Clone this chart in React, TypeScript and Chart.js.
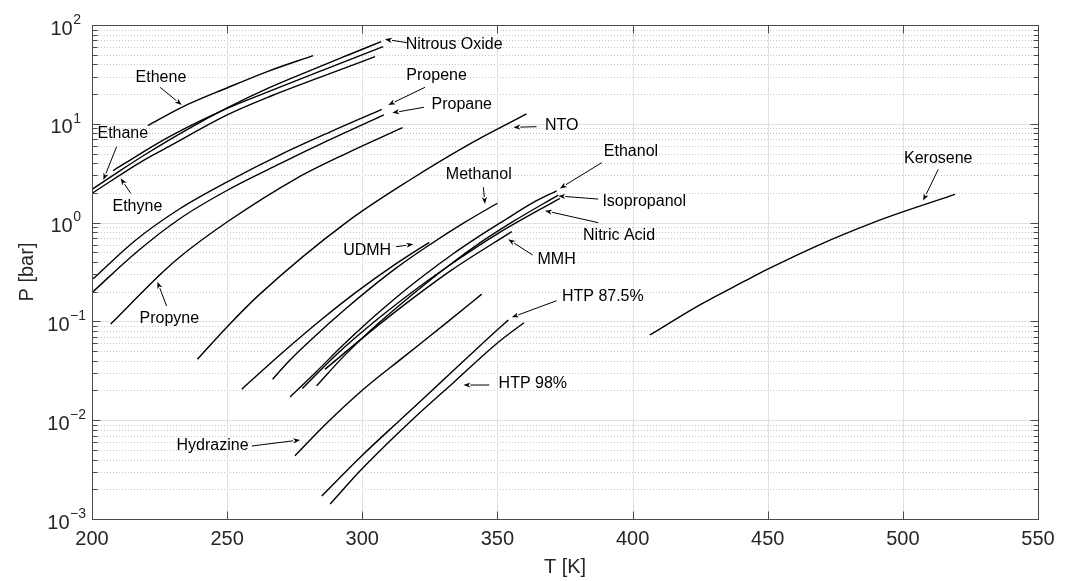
import React, { useEffect, useRef } from "react";
import { Chart, registerables } from "chart.js";

Chart.register(...registerables);

// ---------- data: temperature T [K] and vapour pressure P [bar] ----------
const etheneT = [220.7, 233, 250.3, 265.1, 281.8];
const etheneP = [9.6, 14.6, 23.3, 34.0, 49.0];
const nitrousT = [200, 210, 220, 235, 250, 265, 280, 295, 307];
const nitrousP = [2.17, 3.3, 4.95, 8.7, 14.5, 22.8, 34, 50, 67.8];
const ethyneT = [207.8, 218, 229, 250, 266, 285, 307.7];
const ethyneP = [3.35, 5.0, 7.5, 14.3, 21.5, 34.5, 60.3];
const ethaneT = [200, 218, 229, 250, 266, 285, 304.7];
const ethaneP = [1.98, 4.1, 6.0, 12.3, 19.0, 30.0, 47.8];
const propeneT = [200.4, 216, 232.6, 250.4, 269.6, 288, 307.2];
const propeneP = [0.27, 0.66, 1.39, 2.62, 4.85, 8.25, 14.0];
const propaneT = [200.4, 216, 232.6, 250.4, 269.6, 288, 308];
const propaneP = [0.2, 0.49, 1.1, 2.15, 3.95, 6.9, 12.3];
const propyneT = [206.9, 226.3, 232.6, 250.1, 275.7, 294.2, 314.9];
const propyneP = [0.094, 0.318, 0.452, 1.02, 2.81, 5.03, 9.14];
const ntoT = [239, 250.3, 262.2, 294, 317.6, 340, 360.8];
const ntoP = [0.0413, 0.09, 0.19, 1.0, 2.7, 6.3, 12.6];
const udmhT = [255.4, 270, 285, 298, 312, 324.8];
const udmhP = [0.0206, 0.047, 0.105, 0.2, 0.375, 0.632];
const methanolT = [266.8, 273, 283, 293, 303, 313, 323, 338, 350];
const methanolP = [0.026, 0.04, 0.073, 0.128, 0.217, 0.354, 0.55, 1.01, 1.57];
const ethanolT = [273.3, 283, 293, 303, 313, 323, 333, 343, 351.5, 363, 371.9];
const ethanolP = [0.0172, 0.031, 0.058, 0.104, 0.179, 0.295, 0.47, 0.72, 1.01, 1.58, 2.1];
const isopropanolT = [283.1, 293, 303, 313, 323, 333, 343, 355.4, 372.5];
const isopropanolP = [0.0223, 0.044, 0.081, 0.14, 0.235, 0.385, 0.61, 1.01, 1.9];
const nitricT = [277.8, 290, 305, 320, 335, 350, 373.1];
const nitricP = [0.0209, 0.045, 0.102, 0.213, 0.416, 0.77, 1.76];
const mmhT = [286.2, 298, 313, 333, 355.3];
const mmhP = [0.0327, 0.061, 0.13, 0.33, 0.81];
const hydrazineT = [275.1, 286.8, 300.1, 315, 331.8, 344.2];
const hydrazineP = [0.00437, 0.0093, 0.0202, 0.043, 0.1, 0.189];
const htp875T = [285, 300.1, 313.9, 330, 350.1, 354];
const htp875P = [0.00171, 0.00444, 0.01, 0.0256, 0.083, 0.103];
const htp98T = [288.1, 300.1, 318.3, 334, 350.1, 359.8];
const htp98P = [0.00142, 0.00326, 0.01, 0.0244, 0.0608, 0.097];
const keroseneT = [406.4, 424.9, 441.6, 450.2, 469.3, 489, 500.2, 519.3];
const keroseneP = [0.0728, 0.147, 0.257, 0.34, 0.6, 1.0, 1.29, 1.93];

// tick values
const xTicks = [200, 250, 300, 350, 400, 450, 500, 550];
const yDecades = [-3, -2, -1, 0, 1, 2];

const curves = [
  { name: "Ethene", T: etheneT, P: etheneP },
  { name: "Nitrous Oxide", T: nitrousT, P: nitrousP },
  { name: "Ethyne", T: ethyneT, P: ethyneP },
  { name: "Ethane", T: ethaneT, P: ethaneP },
  { name: "Propene", T: propeneT, P: propeneP },
  { name: "Propane", T: propaneT, P: propaneP },
  { name: "Propyne", T: propyneT, P: propyneP },
  { name: "NTO", T: ntoT, P: ntoP },
  { name: "UDMH", T: udmhT, P: udmhP },
  { name: "Methanol", T: methanolT, P: methanolP },
  { name: "Ethanol", T: ethanolT, P: ethanolP },
  { name: "Isopropanol", T: isopropanolT, P: isopropanolP },
  { name: "Nitric Acid", T: nitricT, P: nitricP },
  { name: "MMH", T: mmhT, P: mmhP },
  { name: "Hydrazine", T: hydrazineT, P: hydrazineP },
  { name: "HTP 87.5%", T: htp875T, P: htp875P },
  { name: "HTP 98%", T: htp98T, P: htp98P },
  { name: "Kerosene", T: keroseneT, P: keroseneP },
];

// annotation labels with arrows, in data coordinates [T, P]
const annotations = [
  { text: "Nitrous Oxide", at: [334.0, 63.8], from: [316.6, 66.2], to: [308.4, 71.7] },
  { text: "Propene", at: [327.5, 30.5], from: [323.2, 23.4], to: [309.6, 15.5] },
  { text: "Propane", at: [336.8, 15.8], from: [322.8, 14.7], to: [311.1, 12.9] },
  { text: "NTO", at: [373.8, 9.57], from: [364.5, 9.35], to: [355.9, 9.22] },
  { text: "Ethanol", at: [399.4, 5.22], from: [388.6, 4.04], to: [373.1, 2.22] },
  { text: "Methanol", at: [343.1, 3.03], from: [344.8, 2.28], to: [345.4, 1.54] },
  { text: "Isopropanol", at: [404.3, 1.63], from: [387.3, 1.73], to: [372.5, 1.86] },
  { text: "Nitric Acid", at: [395.0, 0.736], from: [387.3, 0.998], to: [367.6, 1.32] },
  { text: "MMH", at: [371.9, 0.425], from: [363.0, 0.47], to: [354.0, 0.678] },
  { text: "UDMH", at: [301.8, 0.516], from: [312.5, 0.57], to: [318.9, 0.603] },
  { text: "Ethene", at: [225.5, 29.6], from: [225.2, 23.4], to: [233.2, 15.5] },
  { text: "Ethane", at: [211.4, 8.01], from: [209.1, 5.87], to: [204.2, 2.7] },
  { text: "Ethyne", at: [216.8, 1.45], from: [214.3, 1.98], to: [210.6, 2.81] },
  { text: "Propyne", at: [228.6, 0.106], from: [227.6, 0.143], to: [224.2, 0.252] },
  { text: "Hydrazine", at: [244.6, 0.00552], from: [259.1, 0.00548], to: [277.0, 0.00631] },
  { text: "HTP 87.5%", at: [389.0, 0.178], from: [371.9, 0.162], to: [355.3, 0.11] },
  { text: "HTP 98%", at: [363.1, 0.0237], from: [347.0, 0.0227], to: [337.4, 0.0227] },
  { text: "Kerosene", at: [513.1, 4.48], from: [513.1, 3.46], to: [507.5, 1.67] },
];

const FONT = '"Liberation Sans", Arial, Helvetica, sans-serif';
const AXIS_COLOR = "#262626";

const snap = (v: number) => Math.round(v) + 0.5;

const matlabFrame = {
  id: "matlabFrame",
  beforeDatasetsDraw(chart: any) {
    const { ctx, chartArea, scales } = chart;
    const { left, right, top, bottom } = chartArea;
    const xs = scales.x;
    const ys = scales.y;
    ctx.save();
    ctx.lineWidth = 1;
    // minor y grid (dotted)
    ctx.strokeStyle = "#c6c6c6";
    ctx.setLineDash([1, 2]);
    ctx.beginPath();
    for (let i = 0; i < yDecades.length - 1; i++) {
      for (let k = 2; k <= 9; k++) {
        const py = snap(ys.getPixelForValue(k * Math.pow(10, yDecades[i])));
        ctx.moveTo(left, py);
        ctx.lineTo(right, py);
      }
    }
    ctx.stroke();
    // major grid
    ctx.setLineDash([]);
    ctx.strokeStyle = "#e1e1e1";
    ctx.beginPath();
    for (const d of yDecades.slice(1, -1)) {
      const py = snap(ys.getPixelForValue(Math.pow(10, d)));
      ctx.moveTo(left, py);
      ctx.lineTo(right, py);
    }
    for (const t of xTicks.slice(1, -1)) {
      const px = snap(xs.getPixelForValue(t));
      ctx.moveTo(px, top);
      ctx.lineTo(px, bottom);
    }
    ctx.stroke();
    ctx.restore();
  },
  afterDatasetsDraw(chart: any) {
    const { ctx, chartArea, scales } = chart;
    const { left, right, top, bottom } = chartArea;
    const xs = scales.x;
    const ys = scales.y;
    ctx.save();
    // box
    ctx.strokeStyle = "#4a4a4a";
    ctx.lineWidth = 1;
    const L = snap(left), R = snap(right), T = snap(top), B = snap(bottom);
    ctx.strokeRect(L, T, R - L, B - T);
    // ticks
    ctx.beginPath();
    for (const t of xTicks) {
      const px = snap(xs.getPixelForValue(t));
      ctx.moveTo(px, B);
      ctx.lineTo(px, B - 8);
      ctx.moveTo(px, T);
      ctx.lineTo(px, T + 8);
    }
    for (let i = 0; i < yDecades.length; i++) {
      const py = snap(ys.getPixelForValue(Math.pow(10, yDecades[i])));
      ctx.moveTo(L, py);
      ctx.lineTo(L + 8, py);
      ctx.moveTo(R, py);
      ctx.lineTo(R - 8, py);
      if (i < yDecades.length - 1) {
        for (let k = 2; k <= 9; k++) {
          const pm = snap(ys.getPixelForValue(k * Math.pow(10, yDecades[i])));
          ctx.moveTo(L, pm);
          ctx.lineTo(L + 5, pm);
          ctx.moveTo(R, pm);
          ctx.lineTo(R - 5, pm);
        }
      }
    }
    ctx.stroke();

    // y tick labels 10^n
    ctx.fillStyle = AXIS_COLOR;
    ctx.textBaseline = "middle";
    ctx.textAlign = "right";
    for (const d of yDecades) {
      const py = ys.getPixelForValue(Math.pow(10, d));
      const exp = d < 0 ? "\u2212" + String(-d) : String(d);
      const edge = d < 0 ? left - 6 : left - 11;
      ctx.font = `14px ${FONT}`;
      const ew = ctx.measureText(exp).width;
      ctx.fillText(exp, edge, py - 5);
      ctx.font = `20px ${FONT}`;
      ctx.fillText("10", edge - ew - 0.5, py + 4);
    }

    // annotations
    ctx.font = `16px ${FONT}`;
    ctx.fillStyle = "#000";
    ctx.strokeStyle = "#000";
    ctx.textAlign = "center";
    ctx.textBaseline = "middle";
    ctx.lineWidth = 1;
    for (const a of annotations) {
      const tx = xs.getPixelForValue(a.at[0]);
      const ty = ys.getPixelForValue(a.at[1]);
      ctx.fillText(a.text, tx, ty);
      const fx = xs.getPixelForValue(a.from[0]);
      const fy = ys.getPixelForValue(a.from[1]);
      const hx = xs.getPixelForValue(a.to[0]);
      const hy = ys.getPixelForValue(a.to[1]);
      const ang = Math.atan2(hy - fy, hx - fx);
      const len = 7;
      const hw = 2.6;
      const bx = hx - len * Math.cos(ang);
      const by = hy - len * Math.sin(ang);
      ctx.beginPath();
      ctx.moveTo(fx, fy);
      ctx.lineTo(bx, by);
      ctx.stroke();
      ctx.beginPath();
      ctx.moveTo(hx, hy);
      ctx.lineTo(bx - hw * Math.sin(ang), by + hw * Math.cos(ang));
      ctx.lineTo(hx - (len - 2) * Math.cos(ang), hy - (len - 2) * Math.sin(ang));
      ctx.lineTo(bx + hw * Math.sin(ang), by - hw * Math.cos(ang));
      ctx.closePath();
      ctx.fill();
    }
    ctx.restore();
  },
};

export default function App() {
  const ref = useRef<HTMLCanvasElement | null>(null);

  useEffect(() => {
    const canvas = ref.current;
    if (!canvas) return;
    const datasets = curves.map((c) => ({
      label: c.name,
      data: c.T.map((t, i) => ({ x: t, y: c.P[i] })),
      borderColor: "#000",
      backgroundColor: "#000",
      borderWidth: 1.4,
      pointRadius: 0,
      fill: false,
      tension: 0,
      cubicInterpolationMode: "monotone" as const,
    }));

    const chart = new Chart(canvas, {
      type: "line",
      data: { datasets },
      options: {
        responsive: false,
        animation: false,
        events: [],
        layout: { padding: { left: 0, top: 25, right: 34, bottom: 0 } },
        plugins: {
          legend: { display: false },
          tooltip: { enabled: false },
        },
        scales: {
          x: {
            type: "linear",
            min: 200,
            max: 550,
            grid: { display: false, drawTicks: false },
            border: { display: false },
            ticks: {
              stepSize: 50,
              autoSkip: false,
              maxRotation: 0,
              padding: 8,
              color: AXIS_COLOR,
              font: { family: FONT, size: 20 },
              callback: (v: any) => String(v),
            },
            title: {
              display: true,
              text: "T [K]",
              color: AXIS_COLOR,
              font: { family: FONT, size: 20 },
              padding: { top: 0, bottom: 2 },
            },
            afterFit: (scale: any) => {
              scale.height = 62;
            },
          },
          y: {
            type: "logarithmic",
            min: 0.001,
            max: 100,
            grid: { display: false, drawTicks: false },
            border: { display: false },
            ticks: { display: false },
            title: {
              display: true,
              text: "P [bar]",
              color: AXIS_COLOR,
              font: { family: FONT, size: 20 },
              padding: { top: 15, bottom: 0 },
            },
            afterFit: (scale: any) => {
              scale.width = 92;
            },
          },
        },
      },
      plugins: [matlabFrame],
    });
    return () => chart.destroy();
  }, []);

  return (
    <div
      style={{
        position: "fixed",
        left: 0,
        top: 0,
        width: 1072,
        height: 581,
        background: "#fff",
      }}
    >
      <canvas ref={ref} width={1072} height={581} style={{ display: "block" }} />
    </div>
  );
}
